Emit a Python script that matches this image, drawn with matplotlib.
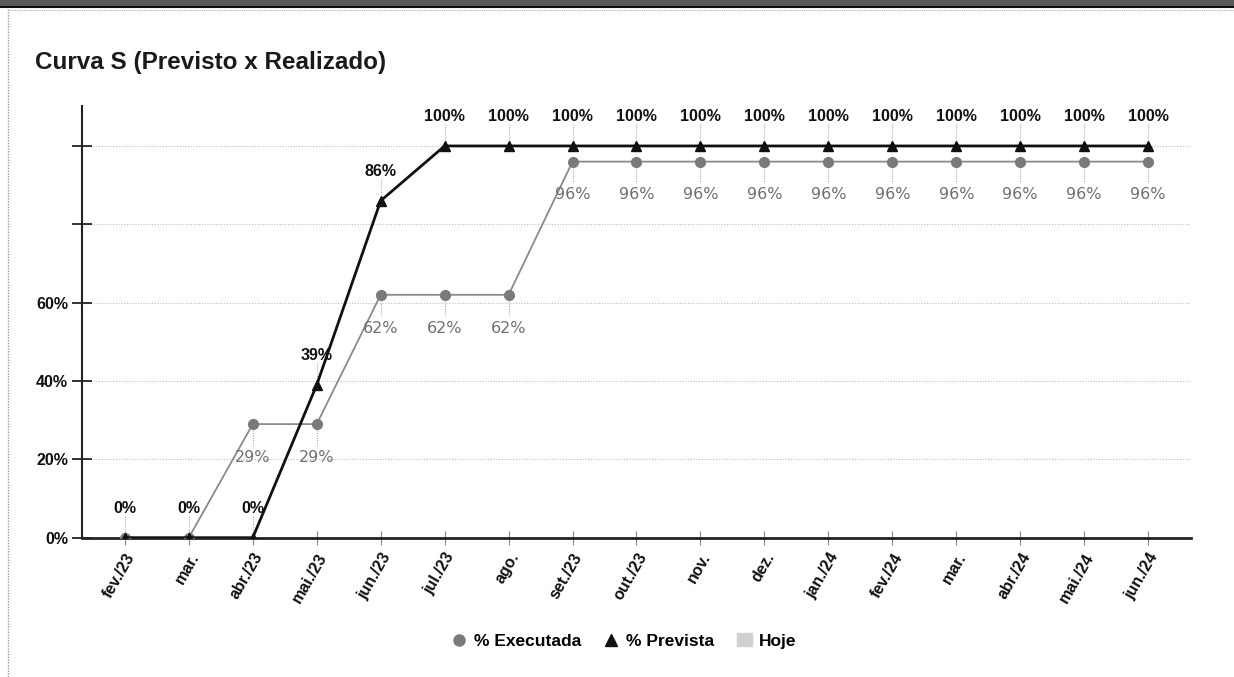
import matplotlib
matplotlib.use("Agg")
import matplotlib.pyplot as plt
from matplotlib.lines import Line2D
from matplotlib.patches import Patch
import numpy as np

months = ["fev./23", "mar.", "abr./23", "mai./23", "jun./23", "jul./23", "ago.",
          "set./23", "out./23", "nov.", "dez.", "jan./24", "fev./24", "mar.",
          "abr./24", "mai./24", "jun./24"]
executada = [0, 0, 29, 29, 62, 62, 62, 96, 96, 96, 96, 96, 96, 96, 96, 96, 96]
prevista = [0, 0, 0, 39, 86, 100, 100, 100, 100, 100, 100, 100, 100, 100, 100, 100, 100]
y_ticks = [0, 20, 40, 60, 80, 100]
y_labels = ["0%", "20%", "40%", "60%", "", ""]

plt.rcParams['font.family'] = ['Liberation Sans', 'DejaVu Sans']

fig = plt.figure(figsize=(12.34, 6.77), dpi=100)
W, H = 1234, 677
ax = fig.add_axes([82 / W, 1 - 537.7 / H, (1191 - 82) / W, (537.7 - 106) / H])

x = np.arange(len(months))
ax.set_xlim(-0.67, len(months) - 1 + 0.67)
ax.set_ylim(0, 110.2)

# grid
for yv in y_ticks[1:]:
    ax.axhline(yv, color="#bdbdbd", lw=0.8, ls=(0, (1, 1.5)), zorder=0)

# lines
ax.plot(x, executada, color="#8a8a8a", lw=1.3, marker="o", ms=7,
        mfc="#7a7a7a", mec="#7a7a7a", zorder=3)
ax.plot(x, prevista, color="#111111", lw=2.0, marker="^", ms=7,
        mfc="#111111", mec="#111111", zorder=4)

# labels
for i, v in enumerate(prevista):
    ax.annotate(f"{v}%", (x[i], v), xytext=(0, 21), textcoords="offset points",
                ha="center", va="center", fontsize=11.5, fontweight="bold",
                color="#111111", zorder=5)
    ax.plot([x[i], x[i]], [v + 1.5, v + 5.5], color="#aaaaaa", lw=0.8,
            ls=(0, (1, 1.2)), zorder=2)
for i, v in enumerate(executada):
    if v == 0:
        continue
    ax.annotate(f"{v}%", (x[i], v), xytext=(0, -24), textcoords="offset points",
                ha="center", va="center", fontsize=11.5, color="#707070",
                family=["DejaVu Sans"], zorder=5)
    ax.plot([x[i], x[i]], [v - 1.5, v - 5.5], color="#aaaaaa", lw=0.8,
            ls=(0, (1, 1.2)), zorder=2)

# axes styling
for s in ["top", "right"]:
    ax.spines[s].set_visible(False)
ax.spines["left"].set_color("#222222")
ax.spines["left"].set_linewidth(1.5)
ax.spines["bottom"].set_color("#222222")
ax.spines["bottom"].set_linewidth(2)

ax.set_yticks(y_ticks)
ax.set_yticklabels(y_labels, fontsize=11.5, fontweight="bold", color="#111111")
ax.tick_params(axis="y", direction="inout", length=14, width=1.3, color="#222222", pad=3)

ax.set_xticks(x)
ax.set_xticklabels(months, rotation=60, ha="right", rotation_mode="anchor",
                   fontsize=11.5, fontweight="bold", color="#111111")
ax.tick_params(axis="x", direction="inout", length=10, width=0.8, color="#888888", pad=4)

# title
fig.text(35 / W, 1 - 62 / H, "Curva S (Previsto x Realizado)", fontsize=17.5,
         fontweight="bold", color="#1a1a1a", ha="left", va="center")

# legend
handles = [
    Line2D([0], [0], marker="o", color="none", mfc="#7a7a7a", mec="#7a7a7a", ms=8),
    Line2D([0], [0], marker="^", color="none", mfc="#111111", mec="#111111", ms=8),
    Patch(facecolor="#d0d0d0", edgecolor="#d0d0d0"),
]
fig.legend(handles, ["% Executada", "% Prevista", "Hoje"], loc="center",
           bbox_to_anchor=(624 / W, 1 - 641 / H), ncol=3, frameon=False,
           prop={"weight": "bold", "size": 12.5}, handlelength=0.9,
           handletextpad=0.4, columnspacing=1.3)

# frame decorations
fig.patches.append(plt.Rectangle((0, 1 - 7 / H), 1, 7 / H, transform=fig.transFigure,
                                 facecolor="#5a5a5a", edgecolor="none"))
fig.lines.append(Line2D([0, 1], [1 - 7 / H, 1 - 7 / H], transform=fig.transFigure,
                        color="#111111", lw=1.5))
fig.lines.append(Line2D([8 / W, 8 / W], [0, 1 - 9 / H], transform=fig.transFigure,
                        color="#999999", lw=1, ls=(0, (1, 1))))
fig.lines.append(Line2D([8 / W, 1], [1 - 9.5 / H, 1 - 9.5 / H], transform=fig.transFigure,
                        color="#aaaaaa", lw=0.8, ls=(0, (1, 1))))

fig.savefig("out.png", dpi=100)
